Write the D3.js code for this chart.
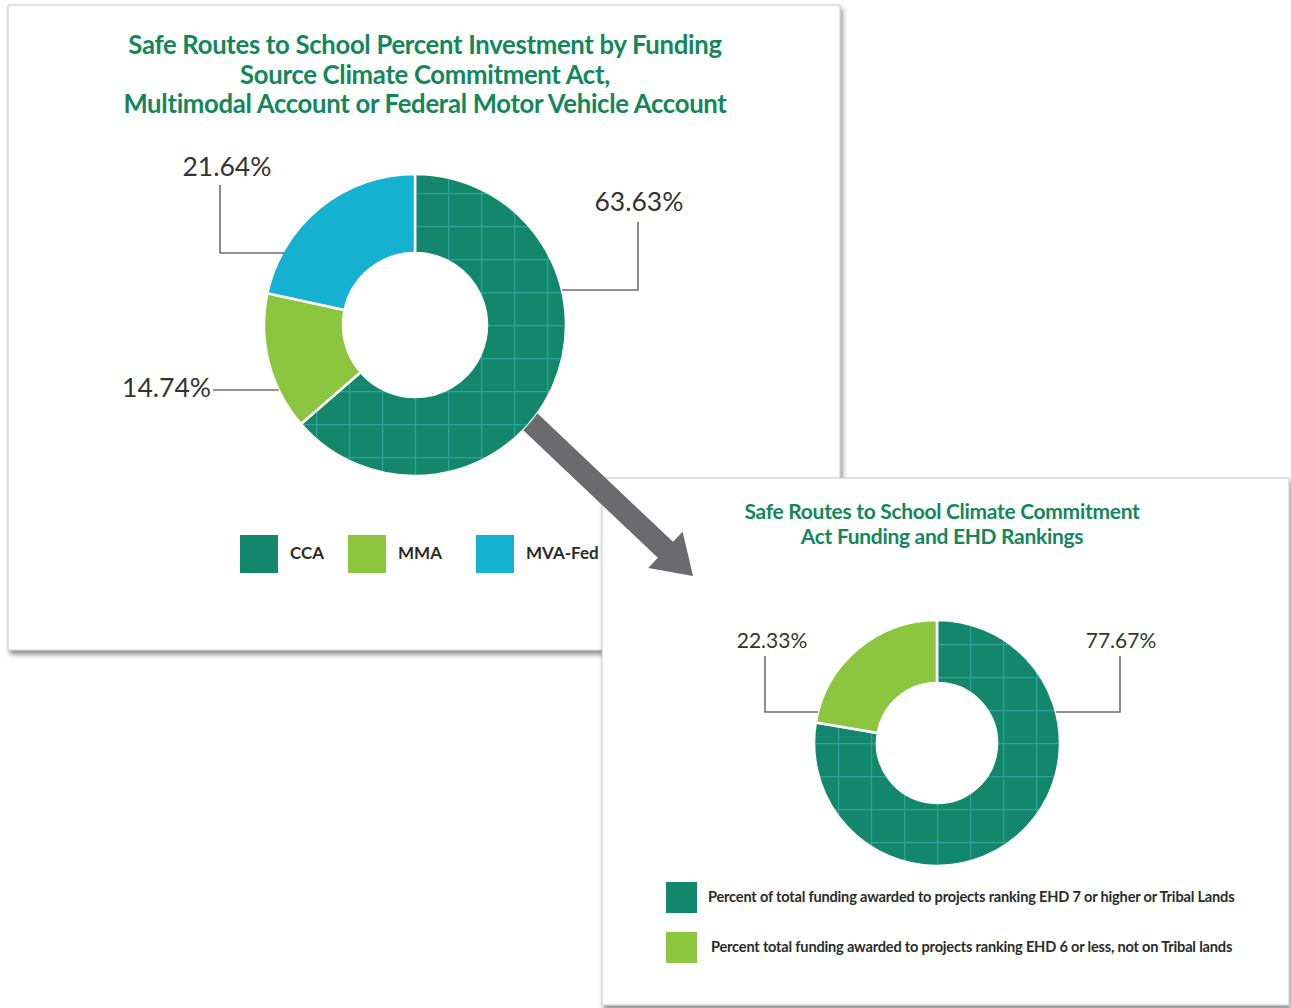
<!DOCTYPE html>
<html>
<head>
<meta charset="utf-8">
<script src="https://cdn.jsdelivr.net/npm/d3@7"></script>
<style>
  body { margin: 0; background: #fff; }
  text { font-family: Lato, "Open Sans", sans-serif; }
</style>
</head>
<body>
<svg id="chart" width="1291" height="1008"></svg>
<script>
// data
const fundingSources = ["CCA", "MMA", "MVA-Fed"];
const fundingShares = [63.63, 14.74, 21.64];
const fundingTitle = [
  "Safe Routes to School Percent Investment by Funding",
  "Source Climate Commitment Act,",
  "Multimodal Account or Federal Motor Vehicle Account"
];

const ehdGroups = [
  "Percent of total funding awarded to projects ranking EHD 7 or higher or Tribal Lands",
  "Percent total funding awarded to projects ranking EHD 6 or less, not on Tribal lands"
];
const ehdShares = [77.67, 22.33];
const ehdTitle = [
  "Safe Routes to School Climate Commitment",
  "Act Funding and EHD Rankings"
];

const green = "#12876c";
const lime = "#8cc63f";
const cyan = "#14b1d1";
const titleColor = "#13875a";

let svg = d3.select("#chart");

let defs = svg.append("defs");

let shadow = defs.append("filter")
  .attr("id", "shadow")
  .attr("x", "-5%").attr("y", "-5%")
  .attr("width", "115%").attr("height", "115%");
shadow.append("feDropShadow")
  .attr("dx", 2).attr("dy", 4)
  .attr("stdDeviation", 2.5)
  .attr("flood-color", "#000")
  .attr("flood-opacity", 0.45);

// grid texture on the dark green slices
let grid = defs.append("pattern")
  .attr("id", "grid")
  .attr("patternUnits", "userSpaceOnUse")
  .attr("width", 33).attr("height", 33);
grid.append("rect").attr("width", 33).attr("height", 33).attr("fill", green);
grid.append("path")
  .attr("d", "M0 0.5H33M0.5 0V33")
  .attr("stroke", "#2fa39a")
  .attr("stroke-width", 1.4)
  .attr("fill", "none");

function drawPanel(g, x, y, w, h){
  g.append("rect")
    .attr("x", x).attr("y", y)
    .attr("width", w).attr("height", h)
    .attr("fill", "#fff")
    .attr("stroke", "#c8c8c8")
    .attr("stroke-width", 1)
    .attr("filter", "url(#shadow)");
}

function drawTitle(g, lines, cx, y0, lh, size){
  g.append("text")
    .attr("text-anchor", "middle")
    .attr("fill", titleColor)
    .attr("font-weight", 700)
    .attr("font-size", size)
    .attr("letter-spacing", "-0.3px")
    .selectAll("tspan")
    .data(lines)
    .enter()
    .append("tspan")
    .attr("x", cx)
    .attr("y", (d, i) => y0 + i * lh)
    .text(d => d);
}

function drawDonut(g, values, colors, cx, cy, rOuter, rInner){
  let pie = d3.pie().sort(null).value(d => d);
  let arc = d3.arc().innerRadius(rInner).outerRadius(rOuter);
  let body = g.append("g").attr("transform", `translate(${cx},${cy})`);
  body.selectAll("path")
    .data(pie(values))
    .enter()
    .append("path")
    .attr("d", arc)
    .attr("fill", (d, i) => colors[i])
    .attr("stroke", "#fff")
    .attr("stroke-width", 2.5);
}

// leader line with an elbow, then its label
function drawLeader(g, pts, label, lx, ly, anchor, size){
  g.append("path")
    .attr("d", d3.line()(pts))
    .attr("fill", "none")
    .attr("stroke", "#6e6e6e")
    .attr("stroke-width", 1.6);
  g.append("text")
    .attr("x", lx).attr("y", ly)
    .attr("text-anchor", anchor)
    .attr("fill", "#333")
    .attr("font-size", size)
    .attr("font-weight", 400)
    .text(label);
}

function edgeX(cx, cy, r, y, side){
  let dy = y - cy;
  return cx + side * Math.sqrt(r * r - dy * dy);
}

let fmt = v => v.toFixed(2) + "%";

// ---- panel 1 ----
let p1 = svg.append("g");
drawPanel(p1, 8, 5, 832, 645);
drawTitle(p1, fundingTitle, 425, 54, 29.5, 25.7);

let c1 = {x: 415, y: 325, r: 151, ri: 72};
drawDonut(p1, fundingShares, ["url(#grid)", lime, cyan], c1.x, c1.y, c1.r, c1.ri);

let e1 = edgeX(c1.x, c1.y, c1.r, 290, 1);
drawLeader(p1, [[e1, 290], [638, 290], [638, 222]], fmt(fundingShares[0]), 639, 211, "middle", 26.5);
let e2 = edgeX(c1.x, c1.y, c1.r, 390, -1);
drawLeader(p1, [[e2, 390], [213, 390]], fmt(fundingShares[1]), 211, 397, "end", 26.5);
let e3 = edgeX(c1.x, c1.y, c1.r, 253, -1);
drawLeader(p1, [[e3 + 2, 253], [220, 253], [220, 185]], fmt(fundingShares[2]), 227, 176, "middle", 26.5);

// legend 1
let legX = d3.scaleOrdinal().domain(fundingSources).range([240, 348, 476]);
let leg1 = p1.append("g").selectAll("g")
  .data(fundingSources)
  .enter()
  .append("g")
  .attr("transform", d => `translate(${legX(d)},535)`);
leg1.append("rect")
  .attr("width", 38).attr("height", 38)
  .attr("fill", (d, i) => [green, lime, cyan][i]);
leg1.append("text")
  .attr("x", 50).attr("y", 24)
  .attr("font-size", 17)
  .attr("font-weight", 700)
  .attr("fill", "#2b2b2b")
  .text(d => d);

// ---- panel 2 ----
let p2 = svg.append("g");
drawPanel(p2, 602, 478, 687, 527);
drawTitle(p2, ehdTitle, 942, 519, 25, 21);

let c2 = {x: 937, y: 743, r: 123, ri: 60};
drawDonut(p2, ehdShares, ["url(#grid)", lime], c2.x, c2.y, c2.r, c2.ri);

let f1 = edgeX(c2.x, c2.y, c2.r, 712, 1);
drawLeader(p2, [[f1, 712], [1120, 712], [1120, 656]], fmt(ehdShares[0]), 1121, 648, "middle", 21);
let f2 = edgeX(c2.x, c2.y, c2.r, 712, -1);
drawLeader(p2, [[f2, 712], [765, 712], [765, 656]], fmt(ehdShares[1]), 772, 648, "middle", 21);

// legend 2
let legY = d3.scaleBand().domain(ehdGroups).range([882, 982]);
let leg2 = p2.append("g").selectAll("g")
  .data(ehdGroups)
  .enter()
  .append("g")
  .attr("transform", d => `translate(666,${legY(d)})`);
leg2.append("rect")
  .attr("width", 31).attr("height", 31)
  .attr("fill", (d, i) => [green, lime][i]);
leg2.append("text")
  .attr("x", (d, i) => i ? 45 : 42).attr("y", 20)
  .attr("font-size", 14.6)
  .attr("font-weight", 700)
  .attr("letter-spacing", "-0.2px")
  .attr("fill", "#2b2b2b")
  .text(d => d);

// ---- connecting arrow (tucked under donut 1) ----
let mask = defs.append("mask").attr("id", "underDonut");
mask.append("rect").attr("width", 1291).attr("height", 1008).attr("fill", "#fff");
mask.append("circle").attr("cx", c1.x).attr("cy", c1.y).attr("r", c1.r).attr("fill", "#000");

let a0 = [520, 412], a1 = [693, 576];
let ang = Math.atan2(a1[1] - a0[1], a1[0] - a0[0]);
let ux = Math.cos(ang), uy = Math.sin(ang), nx = -uy, ny = ux;
let len = Math.hypot(a1[0] - a0[0], a1[1] - a0[1]);
let headLen = 38, shaft = 11, head = 25;
let pt = (s, t) => [a0[0] + ux * s + nx * t, a0[1] + uy * s + ny * t];
let arrowPts = [
  pt(0, -shaft), pt(len - headLen, -shaft), pt(len - headLen, -head),
  pt(len, 0), pt(len - headLen, head), pt(len - headLen, shaft), pt(0, shaft)
];
svg.append("path")
  .attr("d", d3.line()(arrowPts) + "Z")
  .attr("fill", "#6b6b6d")
  .attr("mask", "url(#underDonut)");
</script>
</body>
</html>
